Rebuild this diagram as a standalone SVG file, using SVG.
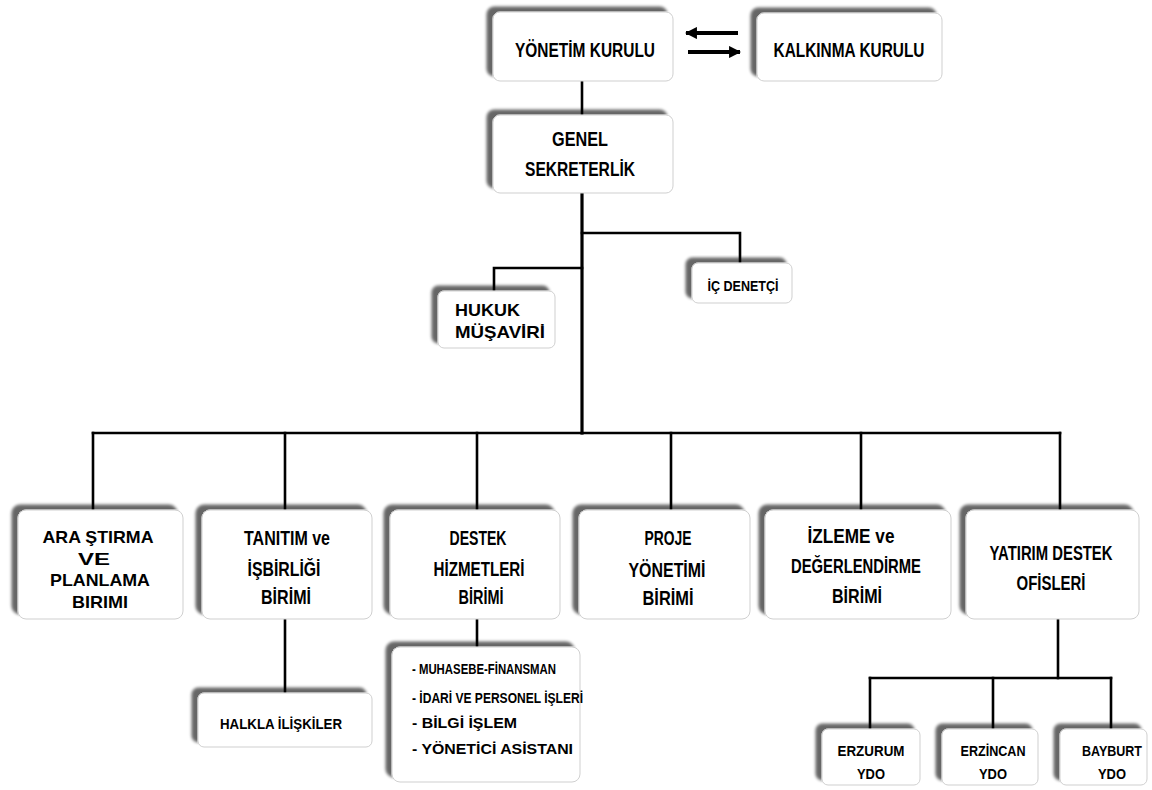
<svg xmlns="http://www.w3.org/2000/svg" width="1152" height="790" viewBox="0 0 1152 790">
<style>
.box{fill:#ffffff;stroke:#cfcfcf;stroke-width:1;filter:url(#sh)}
.t{font-family:"Liberation Sans",Arial,sans-serif;font-weight:bold;fill:#000;text-anchor:middle}
.f18{font-size:19.5px}
.f16{font-size:17px}
.f14{font-size:15px}
.tl{text-anchor:start}
.ln{fill:none;stroke:#000;stroke-width:2.6;stroke-linecap:square}
.arw{fill:none;stroke:#000;stroke-width:3.8}
</style>
<defs>
<filter id="sh" x="-15%" y="-20%" width="130%" height="140%">
<feGaussianBlur in="SourceAlpha" stdDeviation="1.6" result="b"/>
<feOffset in="b" dx="-6" dy="-5" result="o"/>
<feComponentTransfer in="o" result="s"><feFuncA type="linear" slope="0.6"/></feComponentTransfer>
<feMerge><feMergeNode in="s"/><feMergeNode in="SourceGraphic"/></feMerge>
</filter>
<marker id="ah" viewBox="0 0 10 10" refX="9" refY="5" markerWidth="3.2" markerHeight="3.2" orient="auto" markerUnits="strokeWidth">
<path d="M0,0 L10,5 L0,10 Z" fill="#000"/>
</marker>
</defs>
<rect width="1152" height="790" fill="#ffffff"/>

<g id="connectors">
<line class="arw" x1="738" y1="33" x2="686" y2="33" marker-end="url(#ah)"/>
<line class="arw" x1="688" y1="52" x2="740" y2="52" marker-end="url(#ah)"/>
<path class="ln" d="M582,81 V115"/>
<path class="ln" d="M582,193 V433" style="stroke-width:3.2"/>
<path class="ln" d="M582,233 H740 V263"/>
<path class="ln" d="M582,268 H494 V291"/>
<path class="ln" d="M93,433 H1060"/>
<path class="ln" d="M93,433 V510 M285,433 V510 M477,433 V510 M671,433 V510 M861,433 V510 M1060,433 V510"/>
<path class="ln" d="M285,619 V693"/>
<path class="ln" d="M477,619 V647"/>
<path class="ln" d="M1058,619 V678"/>
<path class="ln" d="M870,678 H1111"/>
<path class="ln" d="M870,678 V729 M993,678 V729 M1111,678 V729"/>
</g>

<g id="yonetim">
<rect class="box" x="493" y="12" width="180" height="69" rx="7"/>
<text class="t f18" x="585" y="57" textLength="140" lengthAdjust="spacingAndGlyphs">YÖNETİM KURULU</text>
</g>
<g id="kalkinma">
<rect class="box" x="757" y="13" width="185" height="68" rx="7"/>
<text class="t f18" x="849" y="57" textLength="151" lengthAdjust="spacingAndGlyphs">KALKINMA KURULU</text>
</g>
<g id="genel">
<rect class="box" x="493" y="115" width="180" height="78" rx="7"/>
<text class="t f18" x="580" y="146" textLength="56" lengthAdjust="spacingAndGlyphs">GENEL</text>
<text class="t f18" x="580" y="176" textLength="110" lengthAdjust="spacingAndGlyphs">SEKRETERLİK</text>
</g>
<g id="hukuk">
<rect class="box" x="438" y="291" width="117" height="57" rx="6"/>
<text class="t f16 tl" x="455" y="316" textLength="65" lengthAdjust="spacingAndGlyphs">HUKUK</text>
<text class="t f16 tl" x="455" y="338" textLength="90" lengthAdjust="spacingAndGlyphs">MÜŞAVİRİ</text>
</g>
<g id="icdenetci">
<rect class="box" x="692" y="263" width="100" height="40" rx="6"/>
<text class="t f14" x="743" y="291" textLength="71" lengthAdjust="spacingAndGlyphs">İÇ DENETÇİ</text>
</g>

<g id="arastirma">
<rect class="box" x="18" y="510" width="165" height="109" rx="8"/>
<text class="t f16" x="98" y="543" textLength="111" lengthAdjust="spacingAndGlyphs">ARA ŞTIRMA</text>
<text class="t f16" x="94" y="565" textLength="32" lengthAdjust="spacingAndGlyphs">VE</text>
<text class="t f16" x="100" y="586" textLength="100" lengthAdjust="spacingAndGlyphs">PLANLAMA</text>
<text class="t f16" x="100" y="608" textLength="56" lengthAdjust="spacingAndGlyphs">BIRIMI</text>
</g>
<g id="tanitim">
<rect class="box" x="202" y="510" width="170" height="109" rx="8"/>
<text class="t f18" x="287" y="545" textLength="86" lengthAdjust="spacingAndGlyphs">TANITIM ve</text>
<text class="t f18" x="284" y="576" textLength="73" lengthAdjust="spacingAndGlyphs">İŞBİRLİĞİ</text>
<text class="t f18" x="286" y="604" textLength="50" lengthAdjust="spacingAndGlyphs">BİRİMİ</text>
</g>
<g id="destek">
<rect class="box" x="390" y="510" width="170" height="109" rx="8"/>
<text class="t f18" x="478" y="545" textLength="57" lengthAdjust="spacingAndGlyphs">DESTEK</text>
<text class="t f18" x="479" y="576" textLength="91" lengthAdjust="spacingAndGlyphs">HİZMETLERİ</text>
<text class="t f18" x="481" y="604" textLength="45" lengthAdjust="spacingAndGlyphs">BİRİMİ</text>
</g>
<g id="proje">
<rect class="box" x="579" y="510" width="171" height="109" rx="8"/>
<text class="t f18" x="668" y="545" textLength="47" lengthAdjust="spacingAndGlyphs">PROJE</text>
<text class="t f18" x="667" y="577" textLength="77" lengthAdjust="spacingAndGlyphs">YÖNETİMİ</text>
<text class="t f18" x="668" y="605" textLength="51" lengthAdjust="spacingAndGlyphs">BİRİMİ</text>
</g>
<g id="izleme">
<rect class="box" x="765" y="510" width="186" height="109" rx="8"/>
<text class="t f18" x="851" y="543" textLength="87" lengthAdjust="spacingAndGlyphs">İZLEME ve</text>
<text class="t f18" x="856" y="573" textLength="130" lengthAdjust="spacingAndGlyphs">DEĞERLENDİRME</text>
<text class="t f18" x="857" y="603" textLength="50" lengthAdjust="spacingAndGlyphs">BİRİMİ</text>
</g>
<g id="yatirim">
<rect class="box" x="966" y="510" width="173" height="109" rx="8"/>
<text class="t f18" x="1051" y="560" textLength="123" lengthAdjust="spacingAndGlyphs">YATIRIM DESTEK</text>
<text class="t f18" x="1051" y="590" textLength="69" lengthAdjust="spacingAndGlyphs">OFİSLERİ</text>
</g>

<g id="halkla">
<rect class="box" x="198" y="693" width="174" height="54" rx="6"/>
<text class="t f14" x="281" y="729" textLength="122" lengthAdjust="spacingAndGlyphs">HALKLA İLİŞKİLER</text>
</g>
<g id="destek-list">
<rect class="box" x="392" y="647" width="188" height="135" rx="8"/>
<text class="t f14 tl" x="412" y="674" textLength="144" lengthAdjust="spacingAndGlyphs">- MUHASEBE-FİNANSMAN</text>
<text class="t f14 tl" x="412" y="703" textLength="171" lengthAdjust="spacingAndGlyphs">- İDARİ VE PERSONEL İŞLERİ</text>
<text class="t f14 tl" x="412" y="728" textLength="105" lengthAdjust="spacingAndGlyphs">- BİLGİ İŞLEM</text>
<text class="t f14 tl" x="412" y="754" textLength="161" lengthAdjust="spacingAndGlyphs">- YÖNETİCİ ASİSTANI</text>
</g>

<g id="erzurum">
<rect class="box" x="822" y="729" width="98" height="56" rx="6"/>
<text class="t f14" x="871" y="756" textLength="67" lengthAdjust="spacingAndGlyphs">ERZURUM</text>
<text class="t f14" x="871" y="779" textLength="28" lengthAdjust="spacingAndGlyphs">YDO</text>
</g>
<g id="erzincan">
<rect class="box" x="942" y="729" width="96" height="56" rx="6"/>
<text class="t f14" x="993" y="756" textLength="65" lengthAdjust="spacingAndGlyphs">ERZİNCAN</text>
<text class="t f14" x="993" y="779" textLength="28" lengthAdjust="spacingAndGlyphs">YDO</text>
</g>
<g id="bayburt">
<rect class="box" x="1060" y="729" width="87" height="56" rx="6"/>
<text class="t f14" x="1112" y="756" textLength="60" lengthAdjust="spacingAndGlyphs">BAYBURT</text>
<text class="t f14" x="1112" y="779" textLength="28" lengthAdjust="spacingAndGlyphs">YDO</text>
</g>
</svg>
